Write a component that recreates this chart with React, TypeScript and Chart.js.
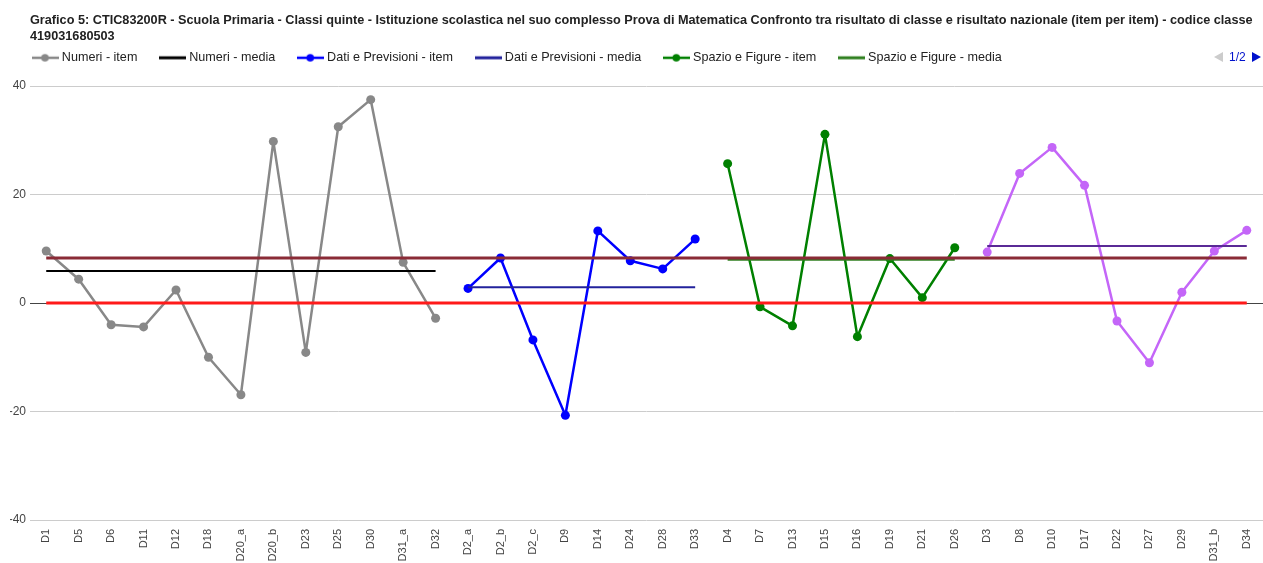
import React, { useEffect, useRef } from "react";
import { Chart, registerables } from "chart.js";

Chart.register(...registerables);

// ---- Data ----
const titleLines = [
  "Grafico 5: CTIC83200R - Scuola Primaria - Classi quinte - Istituzione scolastica nel suo complesso Prova di Matematica Confronto tra risultato di classe e risultato nazionale (item per item) - codice classe",
  "419031680503",
];

const numeriLabels = ["D1", "D5", "D6", "D11", "D12", "D18", "D20_a", "D20_b", "D23", "D25", "D30", "D31_a", "D32"];
const numeriItem = [9.6, 4.4, -4.0, -4.4, 2.4, -10.0, -16.9, 29.8, -9.1, 32.5, 37.5, 7.5, -2.8];
const numeriMedia = 5.9;

const datiLabels = ["D2_a", "D2_b", "D2_c", "D9", "D14", "D24", "D28", "D33"];
const datiItem = [2.7, 8.3, -6.8, -20.7, 13.3, 7.8, 6.3, 11.8];
const datiMedia = 2.9;

const spazioLabels = ["D4", "D7", "D13", "D15", "D16", "D19", "D21", "D26"];
const spazioItem = [25.7, -0.7, -4.2, 31.1, -6.2, 8.2, 1.0, 10.2];
const spazioMedia = 8.0;

const relazioniLabels = ["D3", "D8", "D10", "D17", "D22", "D27", "D29", "D31_b", "D34"];
const relazioniItem = [9.4, 23.9, 28.7, 21.7, -3.3, -11.0, 2.0, 9.6, 13.4];
const relazioniMedia = 10.5;

const totaleMedia = 8.3;
const italiaRiferimento = 0;

const yTicks = [-40, -20, 0, 20, 40];

const seriesNames = [
  "Numeri - item",
  "Numeri - media",
  "Dati e Previsioni - item",
  "Dati e Previsioni - media",
  "Spazio e Figure - item",
  "Spazio e Figure - media",
  "Relazioni e funzioni - item",
  "Relazioni e funzioni - media",
  "Scuola - media",
  "Italia",
];

const labels = [...numeriLabels, ...datiLabels, ...spazioLabels, ...relazioniLabels];

// ---- Helpers ----
function place(groupLabels: string[], values: number[]): (number | null)[] {
  const start = labels.indexOf(groupLabels[0]);
  return labels.map((_, i) => (i >= start && i < start + values.length ? values[i - start] : null));
}
function flat(groupLabels: string[], v: number): (number | null)[] {
  return place(groupLabels, groupLabels.map(() => v));
}

function makeMarker(color: string, withDot: boolean, lw: number): HTMLCanvasElement {
  const c = document.createElement("canvas");
  c.width = 27;
  c.height = 12;
  const ctx = c.getContext("2d")!;
  ctx.strokeStyle = color;
  ctx.lineWidth = lw;
  ctx.beginPath();
  ctx.moveTo(0, 6);
  ctx.lineTo(27, 6);
  ctx.stroke();
  if (withDot) {
    ctx.fillStyle = color;
    ctx.beginPath();
    ctx.arc(13.5, 6, 3.8, 0, Math.PI * 2);
    ctx.fill();
  }
  return c;
}

const FONT = "'Liberation Sans', Arial, sans-serif";

export default function App() {
  const ref = useRef<HTMLCanvasElement>(null);

  useEffect(() => {
    const canvas = ref.current;
    if (!canvas) return;

    const colors = {
      numeriItem: "#888888",
      numeriMedia: "#000000",
      datiItem: "#0000ff",
      datiMedia: "#22229c",
      spazioItem: "#008000",
      spazioMedia: "#2f7f1f",
      relItem: "#c466f8",
      relMedia: "#5a2a96",
      totale: "#8a2b36",
      italia: "#ff1a1a",
    };

    const item = (label: string, data: (number | null)[], color: string) => ({
      label,
      data,
      borderColor: color,
      backgroundColor: color,
      borderWidth: 2.5,
      borderJoinStyle: "round",
      borderCapStyle: "round",
      pointRadius: 4.5,
      pointHoverRadius: 4.5,
      pointBorderWidth: 0,
      pointBackgroundColor: color,
      tension: 0,
      order: 3,
    });
    const media = (label: string, data: (number | null)[], color: string, width = 2, order = 2) => ({
      label,
      data,
      borderColor: color,
      backgroundColor: color,
      borderWidth: width,
      pointRadius: 0,
      pointHoverRadius: 0,
      tension: 0,
      order,
    });

    const datasets = [
      item(seriesNames[0], place(numeriLabels, numeriItem), colors.numeriItem),
      media(seriesNames[1], flat(numeriLabels, numeriMedia), colors.numeriMedia),
      item(seriesNames[2], place(datiLabels, datiItem), colors.datiItem),
      media(seriesNames[3], flat(datiLabels, datiMedia), colors.datiMedia),
      item(seriesNames[4], place(spazioLabels, spazioItem), colors.spazioItem),
      media(seriesNames[5], flat(spazioLabels, spazioMedia), colors.spazioMedia),
      item(seriesNames[6], place(relazioniLabels, relazioniItem), colors.relItem),
      media(seriesNames[7], flat(relazioniLabels, relazioniMedia), colors.relMedia),
      media(seriesNames[8], labels.map(() => totaleMedia), colors.totale, 3, 1),
      media(seriesNames[9], labels.map(() => italiaRiferimento), colors.italia, 3, 0),
    ];

    const markers = [
      makeMarker(colors.numeriItem, true, 2.5),
      makeMarker(colors.numeriMedia, false, 3),
      makeMarker(colors.datiItem, true, 2.5),
      makeMarker(colors.datiMedia, false, 3),
      makeMarker(colors.spazioItem, true, 2.5),
      makeMarker(colors.spazioMedia, false, 3),
    ];

    const chart = new Chart(canvas, {
      type: "line",
      data: { labels, datasets: datasets as any },
      options: {
        responsive: false,
        animation: false,
        devicePixelRatio: 1,
        layout: { autoPadding: false, padding: { left: 10, right: 0, top: 0, bottom: 0 } },
        font: { family: FONT },
        plugins: {
          title: {
            display: true,
            text: titleLines,
            align: "start",
            fullSize: false,
            color: "#222",
            font: { family: FONT, size: 12.7, weight: "bold", lineHeight: 16 / 12.7 },
            padding: { top: 12, bottom: -17 },
          },
          subtitle: {
            display: true,
            text: "",
            position: "top",
            weight: 500,
            font: { size: 1, lineHeight: 1 },
            padding: { top: 11, bottom: 0 },
          },
          legend: {
            display: true,
            position: "top",
            align: "start",
            labels: {
              usePointStyle: true,
              pointStyleWidth: 21,
              padding: 24.5,
              color: "#222",
              font: { family: FONT, size: 12.6 },
              sort: (a: any, b: any) => a.datasetIndex - b.datasetIndex,
              filter: (it: any) => it.datasetIndex < 6,
              generateLabels: (ch: any) =>
                (Chart.defaults.plugins.legend.labels.generateLabels as any)(ch).map((it: any) => ({
                  ...it,
                  pointStyle: markers[it.datasetIndex] || it.pointStyle,
                  fontColor: "#222",
                })),
            },
          },
          tooltip: { enabled: false },
        },
        scales: {
          x: {
            type: "category",
            offset: true,
            grid: { display: false, drawTicks: false },
            border: { display: false },
            ticks: {
              autoSkip: false,
              maxRotation: 90,
              minRotation: 90,
              padding: 9,
              color: "#444",
              font: { family: FONT, size: 11 },
            },
            afterFit: (s: any) => {
              s.height = 43;
              s.paddingLeft = 0;
              s.paddingRight = 0;
            },
          },
          y: {
            min: -40,
            max: 40,
            afterBuildTicks: (s: any) => {
              s.ticks = yTicks.map((v) => ({ value: v }));
            },
            ticks: { padding: 4, color: "#444", font: { family: FONT, size: 12 } },
            grid: {
              drawTicks: false,
              color: (c: any) => (c.tick && c.tick.value === 0 ? "#444" : "#cccccc"),
              lineWidth: 1,
            },
            border: { display: false },
            afterFit: (s: any) => {
              s.width = 20;
              s.paddingTop = 0;
              s.paddingBottom = 0;
            },
          },
        },
      } as any,
    });

    return () => chart.destroy();
  }, []);

  return (
    <div style={{ position: "absolute", left: 0, top: 0, width: 1263, height: 563, overflow: "hidden", background: "#fff" }}>
      <canvas ref={ref} width={1263} height={563} style={{ display: "block" }} />
      <div
        style={{
          position: "absolute",
          left: 1214,
          top: 50,
          height: 14,
          display: "flex",
          alignItems: "center",
          fontFamily: FONT,
          fontSize: 12,
          color: "#0011cc",
        }}
      >
        <span
          style={{
            width: 0,
            height: 0,
            borderTop: "5px solid transparent",
            borderBottom: "5px solid transparent",
            borderRight: "9px solid #cccccc",
            marginRight: 6,
          }}
        />
        <span>1/2</span>
        <span
          style={{
            width: 0,
            height: 0,
            borderTop: "5px solid transparent",
            borderBottom: "5px solid transparent",
            borderLeft: "9px solid #0011cc",
            marginLeft: 6,
          }}
        />
      </div>
    </div>
  );
}
